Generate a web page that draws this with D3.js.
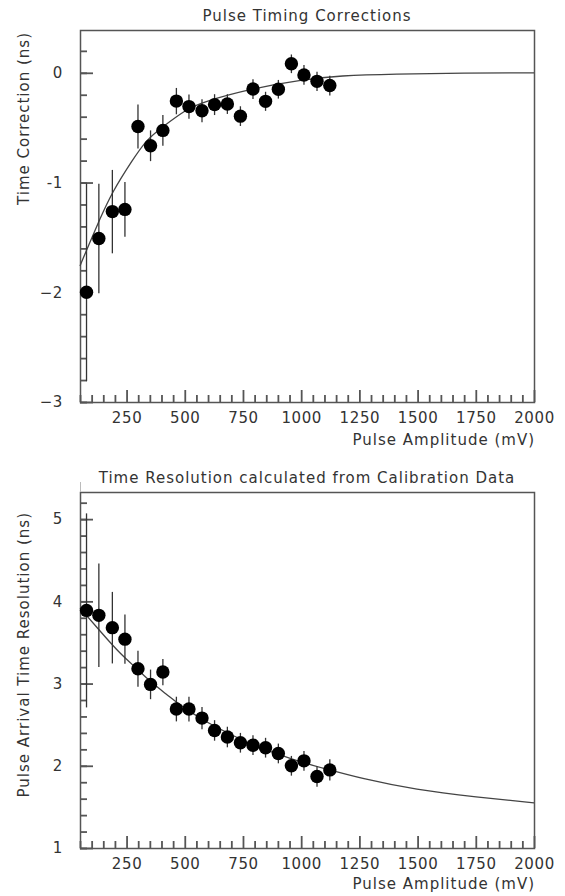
<!DOCTYPE html>
<html>
<head>
<meta charset="utf-8">
<script src="https://cdn.jsdelivr.net/npm/d3@7"></script>
<style>
  body { margin: 0; background: #fff; }
  svg { display: block; }
  text { font-family: "DejaVu Sans", sans-serif; fill: #333; }
</style>
</head>
<body>
<svg id="chart" width="565" height="896"></svg>
<script>
// pulse amplitude bins (mV), shared by both plots
const amplitude = [78, 131, 189, 243, 299, 353, 406, 464, 518, 574, 628, 683, 739, 793, 847, 902, 958, 1012, 1068, 1123];

// top plot: time correction (ns)
const correction = [-2.0, -1.51, -1.265, -1.245, -0.49, -0.665, -0.525, -0.258, -0.308, -0.346, -0.29, -0.285, -0.395, -0.148, -0.26, -0.15, 0.082, -0.02, -0.078, -0.116];
const correctionErrUp = [0.99, 0.5, 0.38, 0.25, 0.2, 0.14, 0.14, 0.12, 0.11, 0.105, 0.095, 0.09, 0.09, 0.09, 0.087, 0.085, 0.085, 0.09, 0.087, 0.09];
const correctionErrDown = [0.81, 0.5, 0.38, 0.25, 0.2, 0.14, 0.14, 0.12, 0.11, 0.105, 0.095, 0.09, 0.09, 0.09, 0.087, 0.085, 0.085, 0.09, 0.087, 0.09];
// fit curve
const correctionFitX = [50, 91, 134, 187, 277, 335, 406, 507, 564, 793, 1008, 1165, 1400, 1700, 2000];
const correctionFitY = [-1.76, -1.55, -1.34, -1.09, -0.79, -0.61, -0.49, -0.335, -0.274, -0.14, -0.062, -0.026, -0.01, -0.003, 0];

// bottom plot: arrival time resolution (ns)
const resolution = [3.89, 3.83, 3.68, 3.54, 3.18, 2.99, 3.14, 2.69, 2.69, 2.58, 2.43, 2.35, 2.28, 2.25, 2.22, 2.15, 2.0, 2.06, 1.87, 1.95];
const resolutionErr = [1.18, 0.63, 0.435, 0.3, 0.22, 0.18, 0.16, 0.15, 0.15, 0.135, 0.125, 0.125, 0.12, 0.12, 0.12, 0.12, 0.12, 0.12, 0.125, 0.13];
const resolutionFitX = [50, 148, 220, 299, 353, 435, 464, 573, 683, 793, 965, 1122, 1251, 1495, 1753, 2000];
const resolutionFitY = [3.92, 3.6, 3.37, 3.17, 3.02, 2.84, 2.77, 2.56, 2.4, 2.25, 2.07, 1.95, 1.85, 1.705, 1.62, 1.55];

// ticks
const xTicks = [250, 500, 750, 1000, 1250, 1500, 1750, 2000];
const correctionTicks = [-3, -2, -1, 0];
const correctionTickLabels = ["\u22123", "\u22122", "-1", "0"];
const resolutionTicks = [1, 2, 3, 4, 5];
const resolutionTickLabels = ["1", "2", "3", "4", "5"];

const svg = d3.select("#chart");
const left = 80, right = 534;
const x = d3.scaleLinear().domain([50, 2000]).range([left, right]);
const xMinor = d3.range(1, 40).map(i => 50 * i);
const axisColor = "#555";

function drawPanel(p) {
  const y = d3.scaleLinear().domain(p.yDomain).range([p.bottom, p.top]);
  const g = svg.append("g");

  // frame
  g.append("rect")
    .attr("x", left + 0.5).attr("y", p.top + 0.5)
    .attr("width", right - left).attr("height", p.bottom - p.top)
    .attr("fill", "none").attr("stroke", axisColor).attr("stroke-width", 1.5);

  // minor and major tick marks through d3 axes, pointing into the frame
  const tickStyle = a => {
    a.select(".domain").remove();
    a.selectAll(".tick line").attr("stroke", axisColor).attr("stroke-width", 1.8);
  };
  g.append("g")
    .attr("transform", `translate(0,${p.bottom})`)
    .call(d3.axisBottom(x).tickValues(xMinor.filter(d => !xTicks.includes(d))).tickSize(-7).tickFormat(() => ""))
    .call(tickStyle);
  g.append("g")
    .attr("transform", `translate(${left},0)`)
    .call(d3.axisLeft(y).tickValues(p.yMinor).tickSize(-7).tickFormat(() => ""))
    .call(tickStyle);

  const xAxis = g.append("g")
    .attr("transform", `translate(0,${p.bottom})`)
    .call(d3.axisBottom(x).tickValues(xTicks).tickSize(-12).tickPadding(10).tickFormat(d3.format("d")))
    .call(tickStyle);
  const yAxis = g.append("g")
    .attr("transform", `translate(${left},0)`)
    .call(d3.axisLeft(y).tickValues(p.yTicks).tickSize(-13).tickPadding(17)
      .tickFormat((d, i) => p.yTickLabels[i]))
    .call(tickStyle);
  [xAxis, yAxis].forEach(a => {
    a.selectAll(".tick text")
      .attr("font-size", 15)
      .attr("letter-spacing", 0.6)
      .attr("fill", "#333")
      .attr("font-family", "DejaVu Sans, sans-serif");
  });

  // fit curve
  const fit = p.fitX.map((v, i) => [v, p.fitY[i]]);
  g.append("path")
    .datum(fit)
    .attr("fill", "none")
    .attr("stroke", "#444")
    .attr("stroke-width", 1.3)
    .attr("d", d3.line().x(d => x(d[0])).y(d => y(d[1])).curve(d3.curveBasis));

  // error bars
  g.selectAll(".err")
    .data(amplitude)
    .enter()
    .append("line")
    .attr("x1", d => x(d)).attr("x2", d => x(d))
    .attr("y1", (d, i) => y(p.values[i] + p.errUp[i]))
    .attr("y2", (d, i) => y(p.values[i] - p.errDown[i]))
    .attr("stroke", "#333")
    .attr("stroke-width", 1.3);

  // points
  g.selectAll(".pt")
    .data(amplitude)
    .enter()
    .append("circle")
    .attr("cx", d => x(d))
    .attr("cy", (d, i) => y(p.values[i]))
    .attr("r", 6.7)
    .attr("fill", "#000");

  // titles
  svg.append("text")
    .attr("x", 307).attr("y", p.titleY)
    .attr("text-anchor", "middle")
    .attr("font-size", 15)
    .attr("letter-spacing", 1)
    .text(p.title);

  svg.append("text")
    .attr("x", right + 1).attr("y", p.xLabelY)
    .attr("text-anchor", "end")
    .attr("font-size", 15)
    .attr("letter-spacing", 1)
    .text("Pulse Amplitude (mV)");

  svg.append("text")
    .attr("transform", `translate(29,${p.yLabelEnd}) rotate(-90)`)
    .attr("text-anchor", "end")
    .attr("font-size", 15)
    .attr("letter-spacing", 1)
    .text(p.yLabel);
}

drawPanel({
  top: 30, bottom: 402,
  yDomain: [-3, 0.39],
  yTicks: correctionTicks,
  yTickLabels: correctionTickLabels,
  yMinor: d3.range(-15, 2).map(i => i / 5),
  values: correction,
  errUp: correctionErrUp,
  errDown: correctionErrDown,
  fitX: correctionFitX,
  fitY: correctionFitY,
  title: "Pulse Timing Corrections",
  titleY: 21,
  xLabelY: 445,
  yLabel: "Time Correction (ns)",
  yLabelEnd: 32
});

drawPanel({
  top: 492, bottom: 848,
  yDomain: [1, 5.33],
  yTicks: resolutionTicks,
  yTickLabels: resolutionTickLabels,
  yMinor: d3.range(5, 27).map(i => i / 5),
  values: resolution,
  errUp: resolutionErr,
  errDown: resolutionErr,
  fitX: resolutionFitX,
  fitY: resolutionFitY,
  title: "Time Resolution calculated from Calibration Data",
  titleY: 483,
  xLabelY: 889,
  yLabel: "Pulse Arrival Time Resolution (ns)",
  yLabelEnd: 512
});

// the lower plot's y axis line pokes out above its frame
svg.append("line")
  .attr("x1", left + 0.5).attr("x2", left + 0.5)
  .attr("y1", 482).attr("y2", 492)
  .attr("stroke", "#bbb");
</script>
</body>
</html>
